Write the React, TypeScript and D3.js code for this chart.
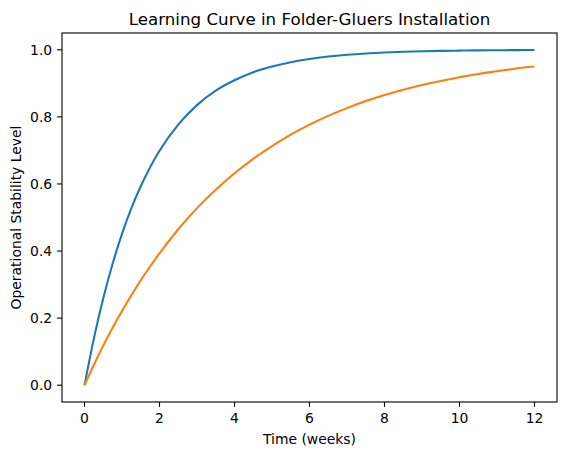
import React from 'react';
import * as d3 from 'd3';

// weeks since installation
const weeks = [0, 0.25, 0.5, 0.75, 1, 1.25, 1.5, 1.75, 2, 2.5, 3, 3.5, 4, 4.5, 5, 5.5, 6, 6.5, 7, 7.5, 8, 8.5, 9, 9.5, 10, 10.5, 11, 11.5, 12];

// blue curve (fast learners)
const fastStability = [0, 0.139, 0.259, 0.362, 0.451, 0.528, 0.593, 0.65, 0.699, 0.777, 0.835, 0.878, 0.909, 0.933, 0.950, 0.963, 0.9727, 0.9798, 0.985, 0.9889, 0.9918, 0.9939, 0.9955, 0.9967, 0.9975, 0.9982, 0.9986, 0.999, 0.9993];

// orange curve (slow learners)
const slowStability = [0, 0.061, 0.118, 0.171, 0.221, 0.268, 0.313, 0.354, 0.393, 0.465, 0.528, 0.583, 0.632, 0.675, 0.713, 0.747, 0.777, 0.803, 0.826, 0.847, 0.865, 0.881, 0.895, 0.907, 0.918, 0.928, 0.936, 0.944, 0.95];

const xTicks = [0, 2, 4, 6, 8, 10, 12];
const yTicks = [0, 0.2, 0.4, 0.6, 0.8, 1.0];

const seriesColors = ['#1f77b4', '#ff7f0e'];

const W = 567;
const H = 455;
const margin = { top: 33, right: 10, bottom: 53, left: 62 };

const App = () => {
  const innerW = W - margin.left - margin.right;
  const innerH = H - margin.top - margin.bottom;

  // matplotlib style 5% padding on both axes
  const x = d3.scaleLinear().domain([-0.6, 12.6]).range([0, innerW]);
  const y = d3.scaleLinear().domain([-0.05, 1.05]).range([innerH, 0]);

  const line = d3.line<number>()
    .x((_, i) => x(weeks[i]))
    .y(d => y(d))
    .curve(d3.curveMonotoneX);

  const font = 'DejaVu Sans, sans-serif';

  return (
    <svg width={W} height={H} style={{ position: 'absolute', left: 0, top: 0, background: '#fff' }} fontFamily={font}>
      <text x={margin.left + innerW / 2} y={25} textAnchor="middle" fontSize={16.7}>
        Learning Curve in Folder-Gluers Installation
      </text>
      <g transform={`translate(${margin.left},${margin.top})`}>
        {[fastStability, slowStability].map((s, i) => (
          <path key={i} d={line(s) || ''} fill="none" stroke={seriesColors[i]} strokeWidth={2.08} />
        ))}
        <rect x={0} y={0} width={innerW} height={innerH} fill="none" stroke="#000" strokeWidth={1.1} />
        {xTicks.map(t => (
          <g key={t} transform={`translate(${x(t)},${innerH})`}>
            <line y2={4.9} stroke="#000" strokeWidth={1.1} />
            <text y={21} textAnchor="middle" fontSize={13.9}>{t}</text>
          </g>
        ))}
        {yTicks.map(t => (
          <g key={t} transform={`translate(0,${y(t)})`}>
            <line x2={-4.9} stroke="#000" strokeWidth={1.1} />
            <text x={-9.8} dy="0.36em" textAnchor="end" fontSize={13.9}>{d3.format('.1f')(t)}</text>
          </g>
        ))}
      </g>
      <text x={margin.left + innerW / 2} y={444} textAnchor="middle" fontSize={13.9}>Time (weeks)</text>
      <text transform={`translate(21,${margin.top + innerH / 2}) rotate(-90)`} textAnchor="middle" fontSize={13.9}>
        Operational Stability Level
      </text>
    </svg>
  );
};

export default App;
